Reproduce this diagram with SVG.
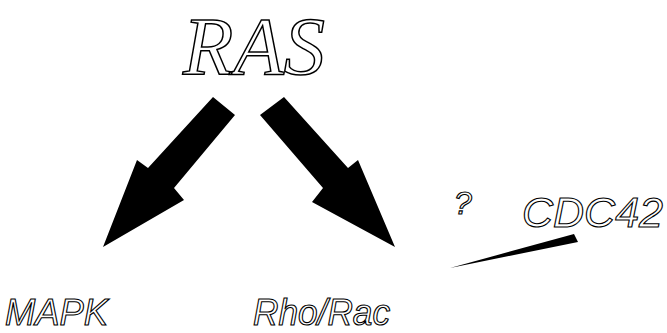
<svg xmlns="http://www.w3.org/2000/svg" width="667" height="333" viewBox="0 0 667 333">
<style>
.lbl{font-family:"Liberation Sans",Arial,sans-serif;font-style:italic;fill:#fff;stroke:#000;stroke-width:1.1}
.ras{font-family:"Liberation Serif","Times New Roman",serif;font-style:italic;fill:#fff;stroke:#000;stroke-width:1.5}
.arr{fill:#000}
</style>
<rect width="667" height="333" fill="#fff"/>
<g id="ras"><text class="ras" x="183" y="74" font-size="82" textLength="142" lengthAdjust="spacingAndGlyphs">RAS</text></g>
<g id="mapk"><text class="lbl" x="5" y="325" font-size="36" textLength="103" lengthAdjust="spacingAndGlyphs">MAPK</text></g>
<g id="rhorac"><text class="lbl" x="253" y="325" font-size="36" textLength="137" lengthAdjust="spacingAndGlyphs">Rho/Rac</text></g>
<g id="cdc42"><text class="lbl" x="522" y="227" font-size="42" textLength="141" lengthAdjust="spacingAndGlyphs">CDC42</text></g>
<g id="question"><text class="lbl" x="454" y="214" font-size="32">?</text></g>
<g id="connectors">
<polygon class="arr" points="213,97 235,115 174,188 184,200 103,247 137,160 148,168"/>
<polygon class="arr" points="284,97 260,115 323,188 312,202 395,247 358,160 348,168"/>
<polygon class="arr" points="450,268 574,234 578,242"/>
</g>
</svg>
